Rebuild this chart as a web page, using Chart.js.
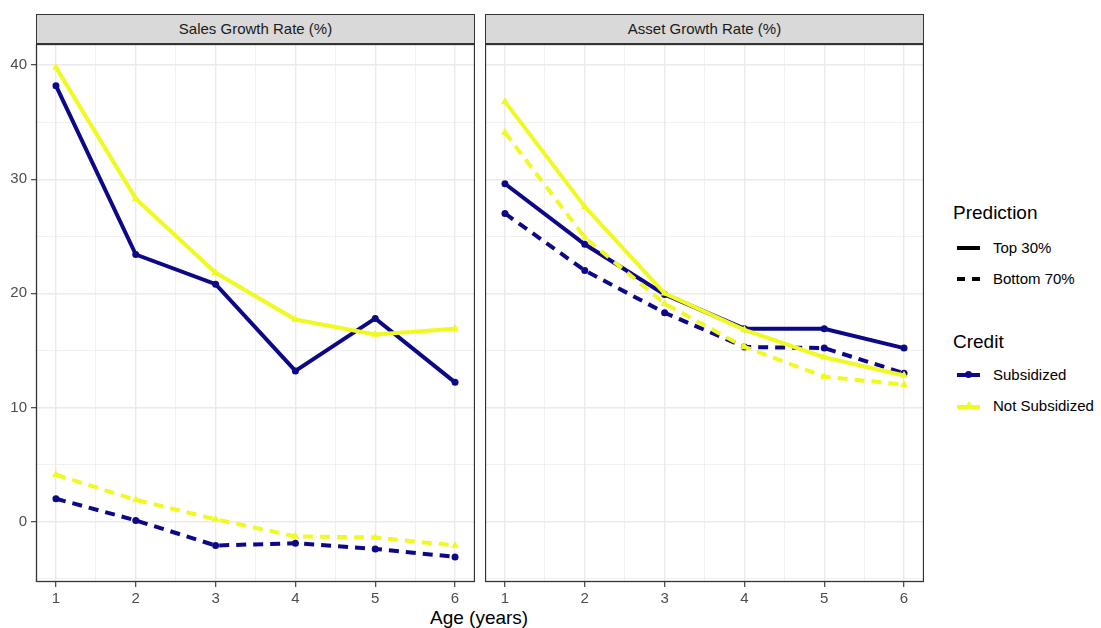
<!DOCTYPE html>
<html>
<head>
<meta charset="utf-8">
<script src="https://cdn.jsdelivr.net/npm/chart.js@4/dist/chart.umd.min.js"></script>
<style>
  body { margin: 0; background: #fff; font-family: "Liberation Sans", Arial, sans-serif; }
  #wrap { position: relative; width: 1101px; height: 628px; overflow: hidden; }
  canvas { position: absolute; }
  .strip { position: absolute; top: 14px; height: 28px; background: #D9D9D9; border: 1.2px solid #333;
           color: #1A1A1A; font-size: 15px; line-height: 28px; text-align: center; box-sizing: content-box; }
  .ttl { position: absolute; font-size: 19px; color: #000; white-space: nowrap; }
  .lab { position: absolute; font-size: 15px; color: #000; white-space: nowrap; }
  .key { position: absolute; height: 4px; }
</style>
</head>
<body>
<div id="wrap">
  <canvas id="sales" width="475" height="560" style="left:0;top:44px"></canvas>
  <canvas id="asset" width="439" height="560" style="left:485px;top:44px"></canvas>
  <div class="strip" style="left:36px;width:437px">Sales Growth Rate (%)</div>
  <div class="strip" style="left:485px;width:437px">Asset Growth Rate (%)</div>
  <div class="ttl" style="left:430px;top:607px">Age (years)</div>

  <div class="ttl" style="left:953px;top:202px">Prediction</div>
  <div class="key" style="left:957px;top:246px;width:23px;background:#000"></div>
  <div class="lab" style="left:993px;top:239px">Top 30%</div>
  <div class="key" style="left:957px;top:277px;width:8px;background:#000"></div>
  <div class="key" style="left:972px;top:277px;width:8px;background:#000"></div>
  <div class="lab" style="left:993px;top:270px">Bottom 70%</div>

  <div class="ttl" style="left:953px;top:331px">Credit</div>
  <div class="key" style="left:957px;top:373px;width:23px;background:#0D0887"></div>
  <div style="position:absolute;left:965px;top:371px;width:7px;height:7px;border-radius:50%;background:#0D0887"></div>
  <div class="lab" style="left:993px;top:366px">Subsidized</div>
  <div class="key" style="left:957px;top:405px;width:23px;background:#F0F921"></div>
  <div style="position:absolute;left:965px;top:401px;width:0;height:0;border-left:4px solid transparent;border-right:4px solid transparent;border-bottom:7px solid #F0F921"></div>
  <div class="lab" style="left:993px;top:397px">Not Subsidized</div>
</div>
<script>
var ages = [1, 2, 3, 4, 5, 6];

// Sales Growth Rate (%)
var salesSubTop = [38.2, 23.4, 20.8, 13.2, 17.8, 12.2];
var salesNotTop = [39.8, 28.3, 21.8, 17.7, 16.4, 16.9];
var salesSubBottom = [2.0, 0.1, -2.1, -1.9, -2.4, -3.1];
var salesNotBottom = [4.1, 1.9, 0.2, -1.3, -1.4, -2.1];

// Asset Growth Rate (%)
var assetSubTop = [29.6, 24.3, 19.9, 16.9, 16.9, 15.2];
var assetNotTop = [36.8, 27.6, 20.0, 16.8, 14.4, 12.8];
var assetSubBottom = [27.0, 22.0, 18.3, 15.3, 15.2, 13.0];
var assetNotBottom = [34.1, 24.9, 19.1, 15.3, 12.7, 12.0];

var xGrid = [1, 1.5, 2, 2.5, 3, 3.5, 4, 4.5, 5, 5.5, 6];
var yGrid = [-5, 0, 5, 10, 15, 20, 25, 30, 35, 40];
var yLabels = [0, 10, 20, 30, 40];

var NAVY = "#0D0887";
var YELLOW = "#F0F921";
var DASH = [10, 7];

function series(vals, color, shape, dashed) {
    return {
        data: ages.map(function (a, i) { return { x: a, y: vals[i] }; }),
        borderColor: color,
        backgroundColor: color,
        borderWidth: 4,
        borderDash: dashed ? DASH : [],
        borderCapStyle: "butt",
        tension: 0,
        pointStyle: shape,
        pointRadius: shape == "triangle" ? 4.6 : 3.5,
        pointBorderWidth: 0,
        fill: false
    };
}

function isMajorX(v) { return Math.abs(v - Math.round(v)) < 1e-6; }
function isMajorY(v) { return v % 10 == 0; }

// no extra room for edge labels, the panel must fill its box
function noPad(s) {
    s.paddingTop = 0;
    s.paddingBottom = 0;
    s.paddingLeft = 0;
    s.paddingRight = 0;
}

var panelBorder = {
    id: "panelBorder",
    afterDraw: function (chart) {
        var a = chart.chartArea, c = chart.ctx;
        c.save();
        c.strokeStyle = "#333333";
        c.lineWidth = 1.3;
        c.strokeRect(a.left + 0.5, a.top + 0.5, a.right - a.left - 1, a.bottom - a.top - 1);
        c.restore();
    }
};

function makePanel(id, sets, showY) {
    return new Chart(document.getElementById(id), {
        type: "line",
        data: { datasets: sets },
        plugins: [panelBorder],
        options: {
            responsive: false,
            animation: false,
            layout: { padding: 0, autoPadding: false },
            plugins: { legend: { display: false }, tooltip: { enabled: false } },
            scales: {
                x: {
                    type: "linear",
                    min: 0.75,
                    max: 6.25,
                    afterBuildTicks: function (s) { s.ticks = xGrid.map(function (v) { return { value: v }; }); },
                    afterFit: function (s) { s.height = 22; noPad(s); },
                    border: { display: false },
                    grid: {
                        color: "#EBEBEB",
                        lineWidth: function (c) { return isMajorX(c.tick.value) ? 1.4 : 0.7; },
                        tickColor: function (c) { return isMajorX(c.tick.value) ? "#333333" : "rgba(0,0,0,0)"; },
                        tickWidth: 1.1,
                        tickLength: 5
                    },
                    ticks: {
                        autoSkip: false,
                        maxRotation: 0,
                        padding: 3,
                        color: "#4D4D4D",
                        font: { family: "Liberation Sans", size: 15 },
                        callback: function (v) { return isMajorX(v) ? String(v) : ""; }
                    }
                },
                y: {
                    type: "linear",
                    min: -5.3,
                    max: 41.85,
                    afterBuildTicks: function (s) { s.ticks = yGrid.map(function (v) { return { value: v }; }); },
                    afterFit: function (s) { s.width = showY ? 36 : 0; noPad(s); },
                    border: { display: false },
                    grid: {
                        color: "#EBEBEB",
                        lineWidth: function (c) { return isMajorY(c.tick.value) ? 1.4 : 0.7; },
                        tickColor: function (c) { return isMajorY(c.tick.value) ? "#333333" : "rgba(0,0,0,0)"; },
                        tickWidth: 1.1,
                        tickLength: 5,
                        drawTicks: showY
                    },
                    ticks: {
                        display: showY,
                        autoSkip: false,
                        padding: 4,
                        color: "#4D4D4D",
                        font: { family: "Liberation Sans", size: 15 },
                        callback: function (v) { return yLabels.indexOf(v) >= 0 ? String(v) : ""; }
                    }
                }
            }
        }
    });
}

makePanel("sales", [
    series(salesNotTop, YELLOW, "triangle", false),
    series(salesNotBottom, YELLOW, "triangle", true),
    series(salesSubTop, NAVY, "circle", false),
    series(salesSubBottom, NAVY, "circle", true)
], true);

makePanel("asset", [
    series(assetNotTop, YELLOW, "triangle", false),
    series(assetNotBottom, YELLOW, "triangle", true),
    series(assetSubTop, NAVY, "circle", false),
    series(assetSubBottom, NAVY, "circle", true)
], false);
</script>
</body>
</html>
